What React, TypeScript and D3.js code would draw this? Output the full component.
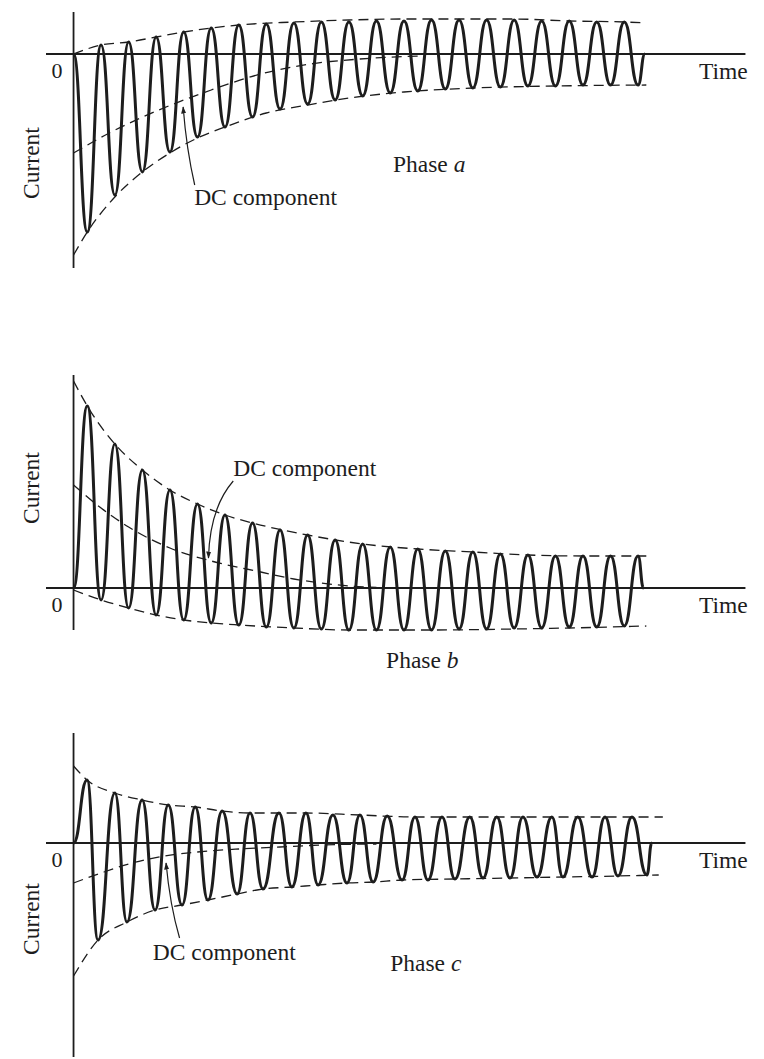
import * as d3 from 'd3'

type Pt = [number, number]

// time in cycles, current in arbitrary units (positive = up)
// wave extremes (peaks / troughs)
const waveA: Pt[] = [
  [0, 0], [0.5, -178], [1, 9], [1.5, -141], [2, 12], [2.5, -118], [3, 17], [3.5, -98],
  [4, 22], [4.5, -83], [5, 26], [5.5, -73], [6, 29], [6.5, -63], [7, 30], [7.5, -55],
  [8, 31], [8.5, -50], [9, 32], [9.5, -46], [10, 32], [10.5, -42], [11, 33], [11.5, -39],
  [12, 33], [12.5, -37], [13, 34], [13.5, -35], [14, 34], [14.5, -34], [15, 34], [15.5, -33],
  [16, 34], [16.5, -32], [17, 33], [17.5, -32], [18, 33], [18.5, -31], [19, 32], [19.5, -31],
  [20, 32], [20.5, -31], [20.75, 0]
]
const upperA: Pt[] = [
  [0, 0], [1, 9], [2, 12], [3, 17], [4, 22], [5, 26], [6, 29], [8, 32], [10, 34],
  [12, 35], [14, 35], [16, 35], [18, 33], [20, 32], [20.8, 31]
]
const lowerA: Pt[] = [
  [0, -201], [0.5, -178], [1.5, -143], [2.5, -118], [3.5, -99], [4.5, -84], [5.5, -73],
  [7, -59], [8.5, -51], [10, -44], [12, -38], [14.5, -34], [17.5, -32], [20.8, -31]
]
const dcA: Pt[] = [
  [0, -99], [1.3, -79], [3.1, -56], [5, -36], [6.8, -20], [8.6, -10], [10.4, -5], [12.6, -2]
]

const waveB: Pt[] = [
  [0, 0], [0.5, 182], [1, -12], [1.5, 144], [2, -20], [2.5, 118], [3, -27], [3.5, 98],
  [4, -32], [4.5, 84], [5, -35], [5.5, 73], [6, -37], [6.5, 65], [7, -39], [7.5, 58],
  [8, -40], [8.5, 53], [9, -41], [9.5, 48], [10, -42], [10.5, 44], [11, -42], [11.5, 41],
  [12, -42], [12.5, 39], [13, -42], [13.5, 37], [14, -41], [14.5, 36], [15, -41], [15.5, 34],
  [16, -40], [16.5, 33], [17, -40], [17.5, 32], [18, -39], [18.5, 32], [19, -39], [19.5, 32],
  [20, -38], [20.5, 32], [20.7, 0]
]
const upperB: Pt[] = [
  [0, 207], [0.5, 182], [1.5, 144], [2.5, 118], [3.5, 98], [4.5, 84], [5.5, 73], [6.5, 65],
  [8.5, 53], [10.5, 44], [12.5, 39], [14.5, 36], [16.5, 33], [18.5, 32], [20.8, 32]
]
const lowerB: Pt[] = [
  [0, -2], [1, -12], [2, -20], [3, -27], [4, -32], [5, -35], [6, -37], [8, -40],
  [10, -42], [13, -42], [16, -41], [18, -40], [20.8, -38]
]
const dcB: Pt[] = [
  [0, 103], [1, 80], [2, 61], [3.5, 40], [5, 27], [6.8, 16], [8, 9], [9, 5], [10, 2], [11, 0.5]
]

const waveC: Pt[] = [
  [0, 0], [0.49, 63], [0.89, -97], [1.5, 50], [1.94, -79], [2.49, 43], [2.96, -67],
  [3.44, 38], [3.94, -62], [4.42, 36], [4.88, -57], [5.4, 32], [5.94, -51], [6.41, 30],
  [6.88, -46], [7.46, 30], [7.93, -44], [8.44, 30], [8.88, -42], [9.42, 28], [9.93, -40],
  [10.4, 28], [10.88, -39], [11.39, 27], [11.93, -37], [12.4, 26], [12.87, -37], [13.38, 26],
  [13.85, -36], [14.39, 26], [14.87, -35], [15.37, 26], [15.85, -35], [16.32, 26], [16.83, -34],
  [17.37, 26], [17.77, -34], [18.31, 26], [18.83, -34], [19.3, 26], [19.77, -33], [20.28, 26],
  [20.82, -32], [21.0, 0]
]
const upperC: Pt[] = [
  [0, 77], [0.49, 63], [1.5, 50], [2.49, 43], [3.44, 38], [4.42, 36], [5.4, 32], [6.41, 30],
  [8.44, 30], [10.4, 28], [12.4, 26], [16, 26], [21.4, 26]
]
const lowerC: Pt[] = [
  [0, -133], [0.89, -97], [1.94, -79], [2.96, -67], [3.94, -62], [4.88, -57], [5.94, -51],
  [6.88, -46], [7.93, -44], [8.88, -42], [9.93, -40], [10.88, -39], [11.93, -37], [13.85, -36],
  [15.85, -35], [17.77, -34], [19.77, -33], [21.25, -32]
]
const dcC: Pt[] = [
  [0, -40], [1, -30], [2, -21], [3.3, -13], [4.5, -9], [6, -6], [7.5, -4], [9, -2], [11, -1]
]

// annotation anchors (data units): leader tail, bend, arrow tip, text
const PANELS = [
  {
    phase: 'a', wave: waveA, upper: upperA, lower: lowerA, dc: dcA,
    yDomain: [-214, 42], yRange: [268, 12],
    leader: [[4.4, -131], [4.1, -95], [3.98, -53]] as Pt[],
    dcText: [4.38, -151] as Pt, phaseText: [11.6, -118] as Pt, currentY: -109
  },
  {
    phase: 'b', wave: waveB, upper: upperB, lower: lowerB, dc: dcB,
    yDomain: [-42, 213], yRange: [630, 375],
    leader: [[5.8, 107], [4.95, 80], [4.9, 30]] as Pt[],
    dcText: [5.8, 112] as Pt, phaseText: [11.35, -80] as Pt, currentY: 100
  },
  {
    phase: 'c', wave: waveC, upper: upperC, lower: lowerC, dc: dcC,
    yDomain: [-214, 110], yRange: [1057, 733],
    leader: [[3.85, -95], [3.5, -62], [3.36, -20]] as Pt[],
    dcText: [2.88, -117] as Pt, phaseText: [11.5, -128] as Pt, currentY: -76
  }
]

const INK = '#1d1d1d'
const FONT = '"Liberation Serif", "Times New Roman", serif'

export default function App() {
  const width = 764
  const height = 1059

  const x = d3.scaleLinear().domain([-1, 24.5]).range([46, 748.2])

  return (
    <svg width={width} height={height} style={{ position: 'absolute', left: 0, top: 0, background: '#fff' }}
      fontFamily={FONT}>
      <defs>
        <marker id="arrow" viewBox="0 0 10 10" refX="9" refY="5" markerWidth="6" markerHeight="6"
          orient="auto">
          <path d="M0,1.5 L10,5 L0,8.5 z" fill={INK} />
        </marker>
      </defs>
      {PANELS.map(p => {
        const y = d3.scaleLinear().domain(p.yDomain).range(p.yRange)
        const y0 = y(0)
        const wave = d3.line<Pt>().x(d => x(d[0])).y(d => y(d[1])).curve(d3.curveBumpX)
        const env = d3.line<Pt>().x(d => x(d[0])).y(d => y(d[1])).curve(d3.curveMonotoneX)
        const [tail, bend, tip] = p.leader
        const leaderPath = `M${x(tail[0])},${y(tail[1])} Q${x(bend[0])},${y(bend[1])} ${x(tip[0])},${y(tip[1])}`
        return (
          <g key={p.phase}>
            {/* axes */}
            <line x1={x(-1)} x2={x(24.4)} y1={y0} y2={y0} stroke={INK} strokeWidth={1.8} />
            <line x1={x(0)} x2={x(0)} y1={y(p.yDomain[0])} y2={y(p.yDomain[1])} stroke={INK} strokeWidth={1.8} />

            {/* envelopes and DC component */}
            {[p.upper, p.lower, p.dc].map((s, i) => (
              <path key={i} d={env(s) || ''} fill="none" stroke={INK} strokeWidth={1.3}
                strokeDasharray="10,6" />
            ))}

            {/* current wave */}
            <path d={wave(p.wave) || ''} fill="none" stroke={INK} strokeWidth={3} strokeLinejoin="round" />

            {/* leader */}
            <path d={leaderPath} fill="none" stroke={INK} strokeWidth={1.2} markerEnd="url(#arrow)" />

            {/* labels */}
            <text x={x(-0.6)} y={y0 + 24} fontSize={22} textAnchor="middle" fill={INK}>0</text>
            <text x={699} y={y0 + 25} fontSize={23.5} fill={INK}>Time</text>
            <text transform={`translate(39,${y(p.currentY)}) rotate(-90)`} fontSize={23.5}
              textAnchor="middle" fill={INK}>Current</text>
            <text x={x(p.dcText[0])} y={y(p.dcText[1])} fontSize={23.5} fill={INK}>DC component</text>
            <text x={x(p.phaseText[0])} y={y(p.phaseText[1])} fontSize={23.5} fill={INK}>
              Phase <tspan fontStyle="italic">{p.phase}</tspan>
            </text>
          </g>
        )
      })}
    </svg>
  )
}
